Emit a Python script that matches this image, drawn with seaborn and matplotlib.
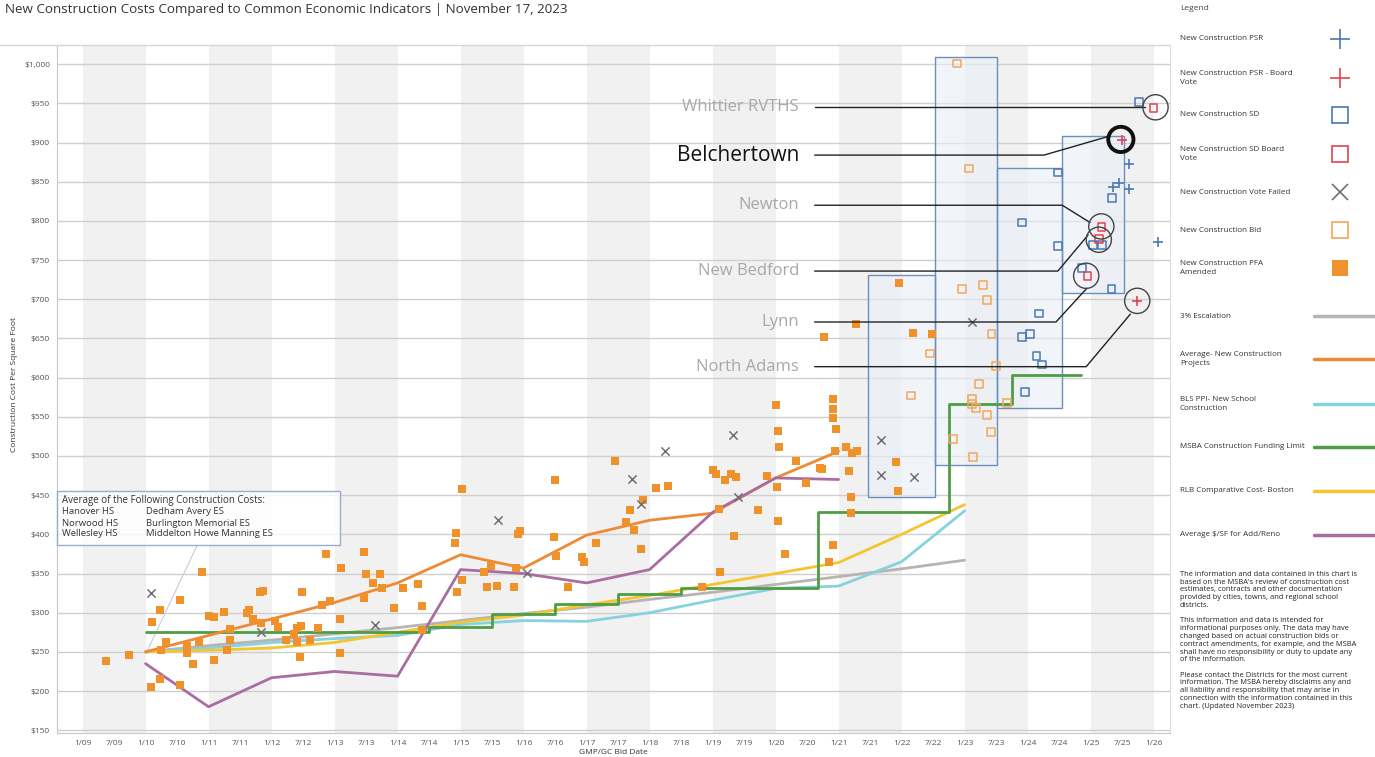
import matplotlib
matplotlib.use("Agg")
import matplotlib.pyplot as plt
import seaborn as sns
from matplotlib.patches import Rectangle
from matplotlib.lines import Line2D

sns.set_style("white")
plt.rcParams['font.family'] = ['Open Sans', 'DejaVu Sans']

# ---- data ----
# New Construction PFA Amended (filled orange squares)
pfa_t = [2009.37, 2009.73, 2010.08, 2010.10, 2010.23, 2010.55, 2010.89, 2010.32, 2010.25, 2010.23,
         2010.55, 2010.66, 2010.66, 2010.76, 2010.85, 2011.00, 2011.09, 2011.25, 2011.09, 2011.34,
         2011.34, 2011.30, 2011.61, 2011.65, 2011.70, 2011.82, 2011.86, 2011.83, 2012.06, 2012.10,
         2012.23, 2012.35, 2012.40, 2012.47, 2012.40, 2012.45, 2012.48, 2012.61, 2012.74, 2012.80,
         2012.92, 2013.09, 2013.09, 2013.11, 2012.87, 2013.46, 2013.50, 2013.61, 2013.72, 2013.75,
         2013.47, 2013.94, 2014.09, 2014.33, 2014.39, 2014.39, 2014.91, 2014.93, 2015.02, 2015.02,
         2014.94, 2015.37, 2015.48, 2015.42, 2015.58, 2015.85, 2015.88, 2015.91, 2015.94, 2016.50,
         2016.48, 2016.51, 2016.71, 2016.93, 2016.96, 2017.15, 2017.45, 2017.63, 2017.69, 2017.76,
         2017.87, 2017.90, 2018.10, 2018.29, 2018.83, 2019.00, 2019.06, 2019.10, 2019.11, 2019.20,
         2019.29, 2019.34, 2019.37, 2019.72, 2019.87, 2020.01, 2020.04, 2020.06, 2020.03, 2020.04,
         2020.15, 2020.32, 2020.48, 2020.71, 2020.85, 2020.91, 2020.77, 2020.91, 2020.91, 2020.91,
         2020.96, 2020.94, 2021.12, 2021.21, 2021.29, 2021.16, 2020.74, 2021.20, 2021.20, 2021.28,
         2021.91, 2021.94, 2021.96, 2022.18, 2022.48]
pfa_v = [238, 246, 205, 288, 303, 316, 352, 263, 252, 215,
         208, 258, 248, 234, 263, 296, 294, 301, 240, 279,
         265, 253, 300, 304, 292, 326, 328, 287, 290, 282,
         265, 273, 280, 283, 262, 244, 326, 265, 281, 310,
         315, 292, 248, 357, 375, 378, 350, 338, 350, 332,
         319, 306, 332, 337, 309, 278, 389, 402, 458, 342,
         327, 352, 360, 333, 334, 333, 357, 401, 404, 469,
         397, 372, 333, 371, 365, 389, 494, 416, 431, 406,
         381, 444, 459, 462, 333, 482, 477, 432, 352, 469,
         477, 398, 473, 431, 474, 565, 532, 511, 460, 417,
         375, 494, 466, 485, 365, 387, 652, 573, 560, 548,
         534, 506, 511, 504, 506, 481, 483, 448, 427, 668,
         492, 455, 721, 657, 656]

# New Construction Bid (open orange squares)
bid_t = [2022.15, 2022.45, 2022.88, 2023.07, 2022.96, 2023.29, 2023.36, 2023.43, 2023.50,
         2023.23, 2023.12, 2023.12, 2023.18, 2023.36, 2023.42, 2022.82, 2023.13, 2023.67]
bid_v = [577, 631, 1001, 867, 713, 718, 699, 656, 615, 592, 573, 566, 561, 552, 531, 522, 499, 568]

# New Construction SD (open blue squares)
sd_t = [2025.77, 2024.48, 2025.34, 2023.91, 2024.48, 2025.04, 2025.18, 2024.86, 2025.33,
        2024.18, 2023.91, 2024.04, 2024.14, 2024.23, 2023.96]
sd_v = [952, 862, 829, 798, 768, 769, 769, 740, 713, 682, 652, 656, 628, 617, 582]

# New Construction SD Board Vote (open red squares)
sdbv_t = [2026.00, 2025.17, 2025.13, 2024.95]
sdbv_v = [944, 792, 777, 730]

# New Construction PSR (blue plus) / PSR Board Vote (red plus)
psr_t = [2025.61, 2025.36, 2025.45, 2025.61, 2026.07]
psr_v = [872, 843, 848, 841, 773]
psrbv_t = [2025.50, 2025.74]
psrbv_v = [903, 698]

# New Construction Vote Failed (gray x)
fail_t = [2010.09, 2011.83, 2013.64, 2015.60, 2016.06, 2017.72, 2017.87, 2018.25, 2019.33,
          2019.41, 2021.67, 2021.67, 2022.20, 2023.12]
fail_v = [325, 275, 284, 418, 351, 471, 439, 506, 527, 448, 520, 476, 473, 671]

# trend lines
line_years = [2010, 2011, 2012, 2013, 2014, 2015, 2016, 2017, 2018, 2019, 2020, 2021, 2022, 2023]
escalation = [250, 258, 265, 273, 281, 290, 299, 307, 317, 326, 336, 346, 356, 367]
bls_ppi = [250, 255, 262, 267, 271, 285, 290, 289, 300, 316, 331, 334, 365, 430]
rlb_boston = [250, 252, 255, 262, 275, 288, 297, 310, 322, 336, 350, 364, 400, 438]

avg_years = [2010, 2011, 2012, 2013, 2014, 2015, 2016, 2017, 2018, 2019, 2020, 2021]
avg_new = [250, 271, 292, 313, 338, 374, 357, 399, 418, 427, 472, 506]
addreno = [235, 180, 217, 225, 219, 355, 350, 338, 355, 428, 472, 470]

msba_t = [2010.0, 2014.5, 2015.5, 2016.5, 2017.5, 2018.5, 2020.67, 2022.75, 2023.75, 2024.85]
msba_v = [275, 282, 299, 311, 324, 332, 429, 566, 603, 603]

# cost range boxes
box_t0 = [2021.47, 2022.53, 2023.52, 2024.55]
box_t1 = [2022.53, 2023.52, 2024.55, 2025.53]
box_lo = [448, 489, 561, 708]
box_hi = [731, 1009, 868, 909]

# called-out districts: label, circle centre, leader path
callouts = [
    ("Whittier RVTHS", (2026.03, 945), [(2020.62, 945), (2025.86, 945)], False),
    ("Belchertown", (2025.48, 904), [(2020.62, 884), (2024.26, 884), (2025.29, 908)], True),
    ("Newton", (2025.17, 793), [(2020.62, 820), (2024.55, 820), (2024.99, 798)], False),
    ("New Bedford", (2025.13, 776), [(2020.62, 736), (2024.48, 736), (2024.96, 782)], False),
    ("Lynn", (2024.93, 730), [(2020.62, 671), (2024.45, 671), (2024.94, 714)], False),
    ("North Adams", (2025.74, 698), [(2020.62, 614), (2024.93, 614), (2025.63, 681)], False),
]

C_ORANGE = '#f0922b'
C_BID = '#f3a65a'
C_BLUE = '#4a78b5'
C_RED = '#e2434f'
C_X = '#707070'
C_ESC = '#b9b3b3'
C_AVG = '#ee8a35'
C_BLS = '#86d2de'
C_MSBA = '#4f9d45'
C_RLB = '#f2c531'
C_RENO = '#a96da0'

W, H = 1375, 757
fig = plt.figure(figsize=(13.75, 7.57), dpi=100)
ax = fig.add_axes([57 / W, 24 / H, 1113 / W, 688 / H])
ax.set_xlim(2008.595, 2026.26)
ax.set_ylim(146.5, 1024.5)

# alternating year bands
for yr in range(2009, 2026, 2):
    ax.axvspan(yr, yr + 1, color='#f1f1f1', zorder=0, lw=0)

ax.set_yticks(range(150, 1001, 50))
ax.set_yticklabels(['$1,000' if v == 1000 else f'${v}' for v in range(150, 1001, 50)])
xt = [2009 + i * 0.5 for i in range(35)]
ax.set_xticks(xt)
ax.set_xticklabels([f"{1 if (t % 1) == 0 else 7}/{int(t) % 100:02d}" for t in xt])
ax.tick_params(axis='both', labelsize=6, colors='#555555', length=3, width=0.8, pad=2)
ax.yaxis.grid(True, color='#cfcfcf', lw=1)
ax.set_axisbelow(True)
ax.spines['top'].set_visible(False)
ax.spines['left'].set_color('#c8c8c8')
ax.spines['bottom'].set_color('#c8c8c8')
ax.spines['right'].set_color('#dddddd')

for t0, t1, lo, hi in zip(box_t0, box_t1, box_lo, box_hi):
    ax.add_patch(Rectangle((t0, lo), t1 - t0, hi - lo, facecolor='#e9eff6', alpha=0.6,
                           edgecolor='none', zorder=1))
    ax.add_patch(Rectangle((t0, lo), t1 - t0, hi - lo, facecolor='none',
                           edgecolor='#6a90c0', lw=1, zorder=1.1))

# lines
sns.lineplot(x=line_years, y=escalation, ax=ax, color=C_ESC, lw=2, estimator=None, sort=False, zorder=3)
sns.lineplot(x=line_years, y=bls_ppi, ax=ax, color=C_BLS, lw=2, estimator=None, sort=False, zorder=3)
sns.lineplot(x=line_years, y=rlb_boston, ax=ax, color=C_RLB, lw=2, estimator=None, sort=False, zorder=3)
sns.lineplot(x=msba_t, y=msba_v, ax=ax, color=C_MSBA, lw=2, estimator=None, sort=False,
             drawstyle='steps-post', zorder=3)
sns.lineplot(x=avg_years, y=avg_new, ax=ax, color=C_AVG, lw=2, estimator=None, sort=False, zorder=3)
sns.lineplot(x=avg_years, y=addreno, ax=ax, color=C_RENO, lw=2, estimator=None, sort=False, zorder=3)

# markers
sns.scatterplot(x=pfa_t, y=pfa_v, ax=ax, marker='s', s=30, color=C_ORANGE, edgecolor=C_ORANGE,
                linewidth=0, zorder=4)
sns.scatterplot(x=bid_t, y=bid_v, ax=ax, marker='s', s=30, color=C_BID, facecolor='none',
                edgecolor=C_BID, linewidth=1.1, zorder=4)
sns.scatterplot(x=sd_t, y=sd_v, ax=ax, marker='s', s=30, color=C_BLUE, facecolor='none',
                edgecolor=C_BLUE, linewidth=1.1, zorder=4)
sns.scatterplot(x=sdbv_t, y=sdbv_v, ax=ax, marker='s', s=30, color=C_RED, facecolor='none',
                edgecolor=C_RED, linewidth=1.1, zorder=4)
sns.scatterplot(x=psr_t, y=psr_v, ax=ax, marker='+', s=45, color=C_BLUE, linewidth=1.2, zorder=4)
sns.scatterplot(x=psrbv_t, y=psrbv_v, ax=ax, marker='+', s=45, color=C_RED, linewidth=1.2, zorder=4)
sns.scatterplot(x=fail_t, y=fail_v, ax=ax, marker='x', s=35, color=C_X, linewidth=1.1, zorder=4)

# call-outs
for name, (cx, cy), path, bold in callouts:
    xs, ys = zip(*path)
    ax.plot(xs, ys, color='#222222', lw=1, zorder=5)
    ax.scatter([cx], [cy], s=330, facecolor='none', edgecolor='#111111' if bold else '#444444',
               linewidth=2.8 if bold else 1, zorder=5)
    ax.text(path[0][0] - 0.25, path[0][1], name, ha='right', va='center',
            fontsize=15 if bold else 12, color='#111111' if bold else '#a8a8a8', zorder=5)

# inset note box
ax.plot([2010.82, 2010.02], [386, 250], color='#cfc8d6', lw=0.8, zorder=2)
fig.add_artist(Rectangle((57 / W, 1 - 545 / H), 283 / W, 54 / H, transform=fig.transFigure,
                         facecolor='white', alpha=0.8, edgecolor='#7f9cc4', lw=1, zorder=2))
fig.text(62 / W, 1 - 500 / H, "Average of the Following Construction Costs:", fontsize=7,
         color='#333333', va='center', zorder=3)
for i, (a, b) in enumerate([("Hanover HS", "Dedham Avery ES"), ("Norwood HS", "Burlington Memorial ES"),
                            ("Wellesley HS", "Middelton Howe Manning ES")]):
    y = 1 - (512 + 11 * i) / H
    fig.text(62 / W, y, a, fontsize=6.8, color='#333333', va='center', zorder=3)
    fig.text(146 / W, y, b, fontsize=6.8, color='#333333', va='center', zorder=3)

# titles / axis labels
fig.text(5 / W, 1 - 10 / H, "New Construction Costs Compared to Common Economic Indicators | November 17, 2023",
         fontsize=9.6, color='#333333', va='center')
fig.add_artist(Line2D([0, 1170 / W], [1 - 45 / H] * 2, color='#d5d5d5', lw=1))
fig.text(15 / W, 1 - 385 / H, "Construction Cost Per Square Foot", rotation=90, fontsize=6,
         color='#333333', ha='center', va='center')
fig.text(613 / W, 1 - 752 / H, "GMP/GC Bid Date", fontsize=6, color='#333333', ha='center', va='center')

# legend panel
lax = fig.add_axes([1170 / W, 0, 205 / W, 1])
lax.set_xlim(1170, 1375)
lax.set_ylim(757, 0)
lax.axis('off')
lax.text(1180, 8, "Legend", fontsize=6, color='#444444', va='center')
marker_items = [
    ("New Construction PSR", 39, dict(marker='+', color=C_BLUE, markersize=15, mew=1.2)),
    ("New Construction PSR - Board\nVote", 78, dict(marker='+', color=C_RED, markersize=15, mew=1.2)),
    ("New Construction SD", 115, dict(marker='s', mfc='none', mec=C_BLUE, markersize=12, mew=1.2)),
    ("New Construction SD Board\nVote", 154, dict(marker='s', mfc='none', mec=C_RED, markersize=12, mew=1.2)),
    ("New Construction Vote Failed", 192, dict(marker='x', color=C_X, markersize=12, mew=1.2)),
    ("New Construction Bid", 230, dict(marker='s', mfc='none', mec=C_BID, markersize=12, mew=1.2)),
    ("New Construction PFA\nAmended", 268, dict(marker='s', color=C_ORANGE, markersize=12, mew=0)),
]
for label, y, st in marker_items:
    lax.text(1180, y, label, fontsize=5.8, color='#333333', va='center', linespacing=1.4)
    lax.plot([1340], [y], linestyle='none', **st)

line_items = [
    ("3% Escalation", 316, C_ESC),
    ("Average- New Construction\nProjects", 359, C_AVG),
    ("BLS PPI- New School\nConstruction", 404, C_BLS),
    ("MSBA Construction Funding Limit", 447, C_MSBA),
    ("RLB Comparative Cost- Boston", 491, C_RLB),
    ("Average $/SF for Add/Reno", 535, C_RENO),
]
for label, y, c in line_items:
    lax.text(1180, y, label, fontsize=5.8, color='#333333', va='center', linespacing=1.4)
    lax.plot([1314, 1375], [y, y], color=c, lw=2.5)

disclaimer = ("The information and data contained in this chart is\n"
              "based on the MSBA's review of construction cost\n"
              "estimates, contracts and other documentation\n"
              "provided by cities, towns, and regional school\n"
              "districts.\n\n"
              "This information and data is intended for\n"
              "informational purposes only. The data may have\n"
              "changed based on actual construction bids or\n"
              "contract amendments, for example, and the MSBA\n"
              "shall have no responsibility or duty to update any\n"
              "of the information.\n\n"
              "Please contact the Districts for the most current\n"
              "information. The MSBA hereby disclaims any and\n"
              "all liability and responsibility that may arise in\n"
              "connection with the information contained in this\n"
              "chart. (Updated November 2023)")
lax.text(1180, 571, disclaimer, fontsize=5.4, color='#222222', va='top', linespacing=1.15)

fig.savefig('out.png', dpi=100)
